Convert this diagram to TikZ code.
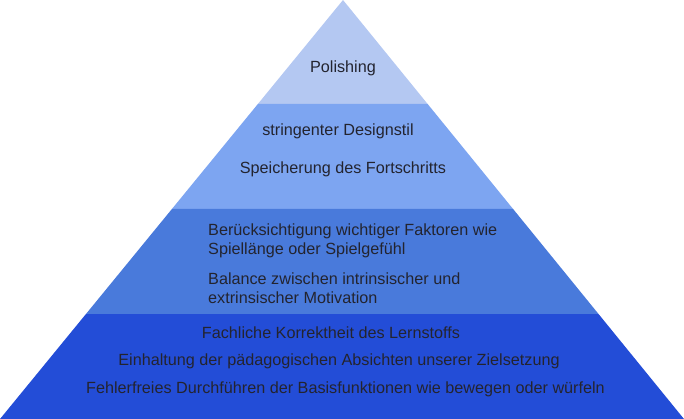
\documentclass[tikz,border=0pt]{standalone}
\usepackage{fontspec}
\setmainfont{Liberation Sans}
\usepackage{tikz}

\definecolor{layerA}{HTML}{B4C8F2}
\definecolor{layerB}{HTML}{7DA5F1}
\definecolor{layerC}{HTML}{497ADB}
\definecolor{layerD}{HTML}{234DD7}
\definecolor{txt}{HTML}{23242F}

\begin{document}
\begin{tikzpicture}[x=1pt,y=-1pt,
    every node/.style={text=txt,inner sep=0pt,font=\fontsize{16.2}{19}\selectfont}]
    \useasboundingbox (0,0) rectangle (684,419);
    % layers of the pyramid, top to bottom
    \foreach \ya/\yb/\c in {0/104/layerA,104/209/layerB,209/314/layerC,314/419/layerD}{
    \fill[\c] ({343-0.8186*\ya},\ya)--({343+0.8138*\ya},\ya)
    --({343+0.8138*\yb},\yb)--({343-0.8186*\yb},\yb)--cycle;}
    \node (polish) at (343,68) {Polishing};
    \node (design) at (338,131) {stringenter Designstil};
    \node (save) at (343,169) {Speicherung des Fortschritts};
    \node[anchor=west,align=left] (factors) at (208,240.5)
    {Berücksichtigung wichtiger Faktoren wie\\Spiellänge oder Spielgefühl};
    \node[anchor=west,align=left] (balance) at (208,288.5)
    {Balance zwischen intrinsischer und\\extrinsischer Motivation};
    \node (correct) at (331,333) {Fachliche Korrektheit des Lernstoffs};
    \node (intent) at (339,361) {Einhaltung der pädagogischen Absichten unserer Zielsetzung};
    \node (basics) at (345.5,389) {Fehlerfreies Durchführen der Basisfunktionen wie bewegen oder würfeln};
\end{tikzpicture}
\end{document}
